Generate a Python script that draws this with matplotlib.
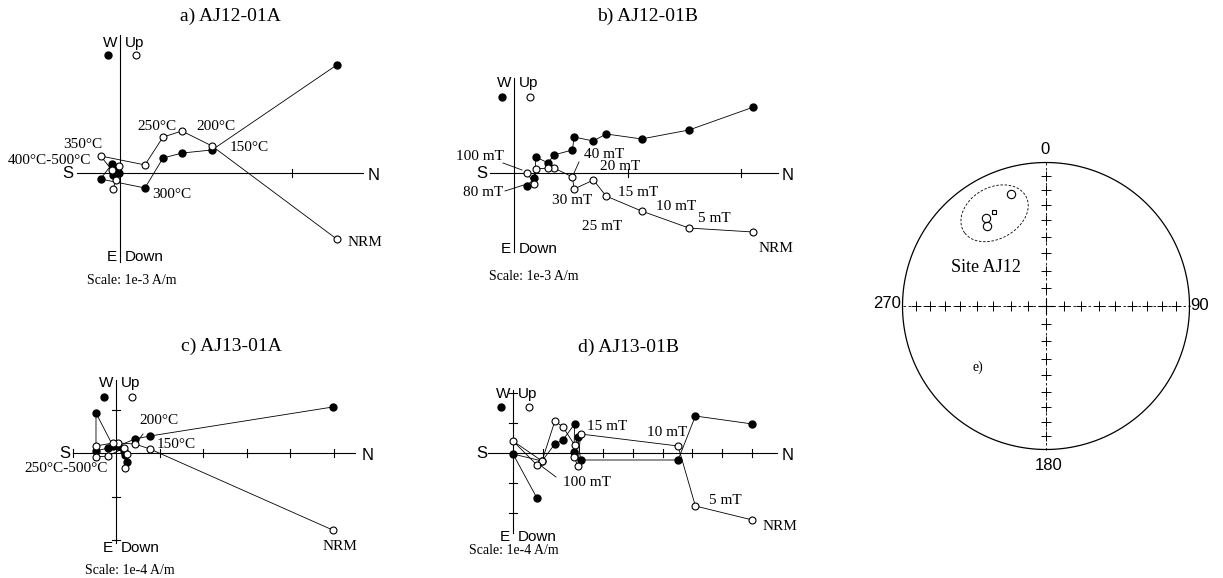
import numpy as np
import matplotlib
matplotlib.use('Agg')
import matplotlib.pyplot as plt
from matplotlib.lines import Line2D

W, H = 1223, 578
SERIF = ['Liberation Serif', 'DejaVu Serif']
SANS = ['Liberation Sans', 'DejaVu Sans']

# Orthogonal demagnetisation data, in units of the plot scale.
# north is shared by both projections; west -> filled dots, up -> open dots
a_north = [1.26, 0.535, 0.36, 0.25, 0.145, -0.113, -0.047, -0.006, -0.023, -0.041]
a_west = [0.628, 0.134, 0.116, 0.087, -0.087, -0.035, 0.052, 0.0, 0.02, -0.012]
a_up = [-0.384, 0.157, 0.244, 0.209, 0.047, 0.099, 0.017, 0.041, -0.041, -0.093]

b_north = [2.11, 1.542, 1.124, 0.811, 0.70, 0.529, 0.515, 0.352, 0.300, 0.194, 0.18, 0.115]
b_west = [0.581, 0.379, 0.300, 0.344, 0.282, 0.317, 0.203, 0.159, 0.088, 0.141, -0.044, -0.115]
b_up = [-0.520, -0.485, -0.335, -0.203, -0.062, -0.141, -0.035, 0.044, 0.044, 0.035, -0.097, 0.0]

c_north = [4.98, 0.782, 0.437, 0.046, -0.069, -0.46, -0.46, -0.184, 0.184, 0.253, 0.207]
c_west = [1.057, 0.391, 0.322, 0.161, 0.161, 0.920, 0.046, 0.115, 0.046, -0.207, -0.046]
c_up = [-1.770, 0.092, 0.207, 0.230, 0.230, 0.161, -0.092, -0.069, 0.115, -0.023, -0.345]

d_north = [8.01, 6.10, 5.52, 2.26, 2.17, 2.04, 2.06, 1.67, 1.40, 0.97, 0.0, 0.80]
d_west = [0.970, 1.237, -0.234, -0.234, 0.535, 0.033, 0.970, 0.435, 0.301, -0.268, -0.033, -1.505]
d_up = [-2.241, -1.773, 0.234, 0.635, -0.435, -0.134, 0.268, 0.870, 1.070, -0.268, 0.401, -0.401]

# Site AJ12 sample directions (declination, inclination)
site_dec = [342.6, 325.7, 323.6]
site_inc = [19.4, 26.7, 31.3]

fig = plt.figure(figsize=(W / 100, H / 100), dpi=100)


def label(x, y, s, size=11, family=SERIF, ha='center', va='center'):
    fig.text(x / W, 1 - y / H, s, fontsize=size, family=family, ha=ha, va=va)


def fig_line(xs, ys, **kw):
    fig.add_artist(Line2D([x / W for x in xs], [1 - y / H for y in ys],
                          transform=fig.transFigure, color='k', **kw))


def panel(box, origin, scale):
    x0, y0, x1, y1 = box
    ox, oy = origin
    ax = fig.add_axes([x0 / W, 1 - y1 / H, (x1 - x0) / W, (y1 - y0) / H])
    ax.set_xlim((x0 - ox) / scale, (x1 - ox) / scale)
    ax.set_ylim((oy - y1) / scale, (oy - y0) / scale)
    ax.axis('off')
    return ax


def zijderveld(ax, north, west, up, hspan, vspan, nticks, vticks, tl):
    ax.plot(hspan, [0, 0], color='k', lw=0.8)
    ax.plot([0, 0], vspan, color='k', lw=0.8)
    for t in nticks:
        ax.plot([t, t], [-tl, tl], color='k', lw=0.8)
    for t in vticks:
        ax.plot([-tl, tl], [t, t], color='k', lw=0.8)
    ax.plot(north, west, color='k', lw=0.6, marker='o', ms=5, mfc='k', mec='k', clip_on=False)
    ax.plot(north, up, color='k', lw=0.6, marker='o', ms=5, mfc='white', mec='k', mew=0.8, clip_on=False)


def axis_labels(ox, top, bottom, left, right, ny, scale_text, sx, sy, key_y):
    label(ox - 3, top, 'W', 11, SANS, ha='right')
    label(ox + 5, top, 'Up', 11, SANS, ha='left')
    label(ox - 3, bottom, 'E', 11, SANS, ha='right')
    label(ox + 5, bottom, 'Down', 11, SANS, ha='left')
    label(left, ny, 'S', 12, SANS)
    label(right, ny + 2, 'N', 12, SANS)
    label(sx, sy, scale_text, 10, SERIF, ha='left')
    fig.add_artist(Line2D([(ox - 12) / W], [1 - key_y / H], transform=fig.transFigure,
                          marker='o', ms=5, mfc='k', mec='k', ls='none'))
    fig.add_artist(Line2D([(ox + 16) / W], [1 - key_y / H], transform=fig.transFigure,
                          marker='o', ms=5, mfc='white', mec='k', mew=0.8, ls='none'))


# a) thermal demagnetisation AJ12-01A
ax = panel((0, 0, 410, 290), (120, 173), 172)
zijderveld(ax, a_north, a_west, a_up, (-0.25, 1.41), (-0.52, 0.80), [1], [], 4 / 172)
label(230, 16, 'a) AJ12-01A', 14)
axis_labels(120, 43, 257, 68, 374, 174, 'Scale: 1e-3 A/m', 87, 280, 55)
for x, y, s in [(83, 144, '350°C'), (49, 160, '400°C-500°C'), (157, 126, '250°C'),
                (216, 126, '200°C'), (249, 148, '150°C'), (172, 194, '300°C'), (365, 242, 'NRM')]:
    label(x, y, s, 11)

# b) AF demagnetisation AJ12-01B
ax = panel((420, 0, 820, 290), (514, 173), 113.5)
zijderveld(ax, b_north, b_west, b_up, (-0.21, 2.33), (-0.70, 0.84), [1, 2], [], 4 / 113.5)
label(648, 16, 'b) AJ12-01B', 14)
axis_labels(514, 83, 249, 482, 788, 173, 'Scale: 1e-3 A/m', 489, 276, 97)
for x, y, s in [(480, 156, '100 mT'), (483, 193, '80 mT'), (604, 154, '40 mT'), (620, 167, '20 mT'),
                (572, 200, '30 mT'), (638, 193, '15 mT'), (676, 206, '10 mT'), (714, 219, '5 mT'),
                (602, 227, '25 mT'), (776, 248, 'NRM')]:
    label(x, y, s, 11)
fig_line([503, 522], [163, 170], lw=0.6)
fig_line([505, 530], [191, 183], lw=0.6)
fig_line([574, 579], [173, 162], lw=0.6)

# c) thermal demagnetisation AJ13-01A
ax = panel((0, 330, 410, 578), (116, 453), 43.5)
zijderveld(ax, c_north, c_west, c_up, (-1.0, 5.49), (-2.07, 1.68), [-1, 1, 2, 3, 4, 5], [1, -1, -2], 4 / 43.5)
label(231, 346, 'c) AJ13-01A', 14)
axis_labels(116, 383, 548, 65, 368, 453, 'Scale: 1e-4 A/m', 85, 570, 397)
for x, y, s in [(159, 421, '200°C'), (176, 445, '150°C'), (66, 469, '250°C-500°C'), (340, 546, 'NRM')]:
    label(x, y, s, 11)
fig_line([137, 143], [442, 434], lw=0.6)

# d) AF demagnetisation AJ13-01B
ax = panel((420, 330, 840, 578), (513, 453), 29.9)
zijderveld(ax, d_north, d_west, d_up, (-0.84, 8.83), (-2.68, 2.1), range(1, 9), [2, 1, -1, -2], 4 / 29.9)
label(629, 347, 'd) AJ13-01B', 14)
axis_labels(513, 394, 537, 482, 788, 453, 'Scale: 1e-4 A/m', 469, 550, 407)
for x, y, s in [(607, 427, '15 mT'), (667, 433, '10 mT'), (587, 483, '100 mT'), (725, 501, '5 mT'),
                (780, 526, 'NRM')]:
    label(x, y, s, 11)
fig_line([540, 556], [465, 477], lw=0.6)


# e) equal-area stereonet of site AJ12
def unit(dec, inc):
    d, i = np.radians(dec), np.radians(inc)
    return np.array([np.cos(i) * np.cos(d), np.cos(i) * np.sin(d), np.sin(i)])


def project(v):
    dec = np.arctan2(v[1], v[0])
    inc = np.arcsin(np.clip(v[2], -1, 1))
    r = np.sqrt(2) * np.sin((np.pi / 2 - np.abs(inc)) / 2)
    return r * np.sin(dec), r * np.cos(dec)


ax = panel((860, 0, 1223, 500), (1046, 306), 143.5)
t = np.linspace(0, 2 * np.pi, 361)
ax.plot(np.cos(t), np.sin(t), color='k', lw=0.9)
ax.plot([-1, 1], [0, 0], color='k', lw=0.6, dashes=(3, 3))
ax.plot([0, 0], [-1, 1], color='k', lw=0.6, dashes=(3, 3))
rings = np.sqrt(2) * np.sin(np.radians((90 - np.arange(10, 90, 10)) / 2))
for sgn in (-1, 1):
    ax.plot(sgn * rings, np.zeros_like(rings), ls='none', marker='+', ms=6.5, mew=0.7, color='k')
    ax.plot(np.zeros_like(rings), sgn * rings, ls='none', marker='+', ms=6.5, mew=0.7, color='k')
ax.plot([0], [0], marker='+', ms=12, mew=0.8, color='k')

vecs = np.array([unit(d, i) for d, i in zip(site_dec, site_inc)])
xs, ys = project(vecs.T)
ax.plot(xs, ys, ls='none', marker='o', ms=6, mfc='none', mec='k', mew=0.8)

# Fisher mean and alpha95 cone
n = len(vecs)
s = vecs.sum(axis=0)
R = np.linalg.norm(s)
m = s / R
a95 = np.arccos(1 - (n - R) / R * (20 ** (1 / (n - 1)) - 1))
mx, my = project(m)
ax.plot([mx], [my], ls='none', marker='s', ms=3.5, mfc='none', mec='k', mew=0.8)
u = np.cross(m, [0, 0, 1])
u /= np.linalg.norm(u)
w = np.cross(m, u)
ring = (np.cos(a95) * m[:, None]
        + np.sin(a95) * (np.outer(u, np.cos(t)) + np.outer(w, np.sin(t))))
ex, ey = project(ring)
ax.plot(ex, ey, color='k', lw=0.6, dashes=(3, 2))

label(1045, 149, '0', 12, SANS)
label(1200, 305, '90', 12, SANS)
label(887, 304, '270', 12, SANS)
label(1049, 465, '180', 12, SANS)
label(986, 268, 'Site AJ12', 13)
label(978, 367, 'e)', 10)

fig.savefig('out.png', dpi=100)
